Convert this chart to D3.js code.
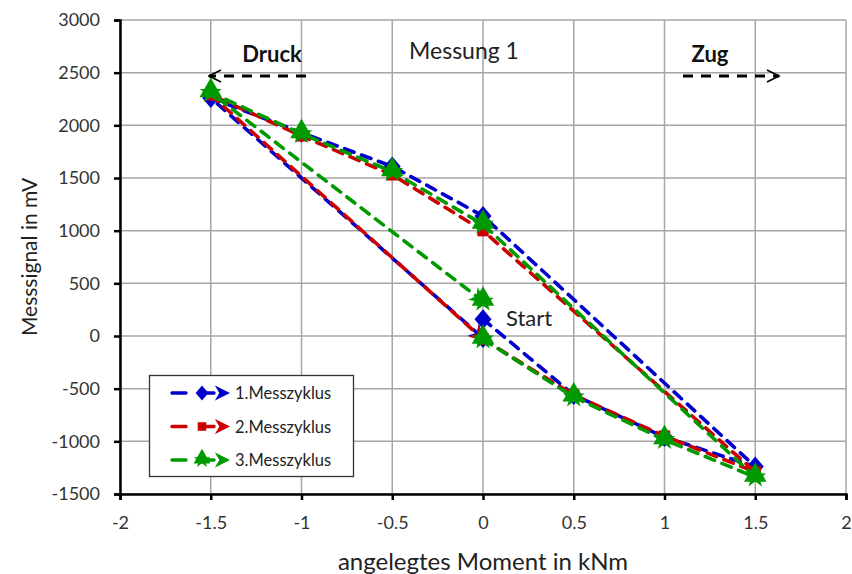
<!DOCTYPE html>
<html>
<head>
<meta charset="utf-8">
<script src="https://cdn.jsdelivr.net/npm/d3@7"></script>
<style>
  html, body { margin: 0; padding: 0; background: #fff; }
  text { font-family: Lato, "Open Sans", sans-serif; }
</style>
</head>
<body>
<svg id="chart" width="852" height="574"></svg>
<script>
// Applied moment sequence for each measuring cycle (kNm)
const momentX = [0, 0.5, 1, 1.5, 0, -0.5, -1, -1.5, 0];
// Measured signal per cycle (mV)
const zyklus1 = [160, -560, -960, -1240, 1140, 1610, 1930, 2260, -20];
const zyklus2 = [-30, -560, -950, -1290, 1000, 1530, 1900, 2290, -30];
const zyklus3 = [-30, -580, -985, -1340, 1060, 1560, 1920, 2310, 330];
const seriesNames = ["1.Messzyklus", "2.Messzyklus", "3.Messzyklus"];
const seriesColors = ["#0000cc", "#cc0000", "#009900"];
const seriesShapes = ["diamond", "square", "star"];

const xTicks = [-2, -1.5, -1, -0.5, 0, 0.5, 1, 1.5, 2];
const yTicks = [-1500, -1000, -500, 0, 500, 1000, 1500, 2000, 2500, 3000];

const svg = d3.select("#chart");
const plotL = 120, plotR = 846, plotT = 20, plotB = 494;

const x = d3.scaleLinear().domain([-2, 2]).range([plotL, plotR]);
const y = d3.scaleLinear().domain([-1500, 3000]).range([plotB, plotT]);

// Grid
const grid = svg.append("g");
grid.selectAll("line.v").data(xTicks).join("line")
  .attr("x1", d => x(d)).attr("x2", d => x(d))
  .attr("y1", plotT).attr("y2", plotB)
  .attr("stroke", "#a6a6a6").attr("stroke-width", 1.5);
grid.selectAll("line.h").data(yTicks).join("line")
  .attr("x1", plotL).attr("x2", plotR)
  .attr("y1", d => y(d)).attr("y2", d => y(d))
  .attr("stroke", "#a6a6a6").attr("stroke-width", 1.5);

// Axes
const xAxis = d3.axisBottom(x).tickValues(xTicks).tickSize(6).tickPadding(16)
  .tickFormat(d => String(d));
const yAxis = d3.axisLeft(y).tickValues(yTicks).tickSize(6).tickPadding(14)
  .tickFormat(d => String(d));

const gx = svg.append("g").attr("transform", `translate(0,${plotB})`).call(xAxis);
const gy = svg.append("g").attr("transform", `translate(${plotL},0)`).call(yAxis);
[gx, gy].forEach(g => {
  g.select(".domain").attr("stroke", "#000").attr("stroke-width", 2.5);
  g.selectAll(".tick line").attr("stroke", "#000").attr("stroke-width", 2.5);
  g.selectAll(".tick text").attr("fill", "#333").style("font-size", "18px")
    .style("font-family", "Lato, 'Open Sans', sans-serif");
});

// Axis titles
svg.append("text").attr("x", x(0)).attr("y", 570).attr("text-anchor", "middle")
  .style("font-size", "24px").attr("fill", "#222").text("angelegtes Moment in kNm");
svg.append("text").attr("transform", `translate(37,${y(750)}) rotate(-90)`)
  .attr("text-anchor", "middle").style("font-size", "21px").attr("fill", "#222")
  .text("Messsignal in mV");

// Arrow heads for the series lines
const defs = svg.append("defs");
seriesColors.forEach((c, i) => {
  defs.append("marker").attr("id", "arr" + i)
    .attr("viewBox", "0 0 10 10").attr("refX", 8).attr("refY", 5)
    .attr("markerWidth", 4.5).attr("markerHeight", 4.5)
    .attr("markerUnits", "strokeWidth").attr("orient", "auto")
    .append("path").attr("d", "M0,0 L10,5 L0,10 L3,5 Z").attr("fill", c);
});

const symbolFor = {
  square: d3.symbol().type(d3.symbolSquare).size(130),
  star: d3.symbol().type(d3.symbolStar).size(150),
  tri: d3.symbol().type(d3.symbolTriangle).size(220)
};

function drawMarker(g, shape, color, cx, cy, k = 1) {
  const t = `translate(${cx},${cy}) scale(${k})`;
  if (shape === "star") {
    g.append("path").attr("d", symbolFor.star()).attr("fill", color).attr("transform", t);
    g.append("path").attr("d", symbolFor.tri()).attr("fill", color)
      .attr("transform", `translate(${cx},${cy - 2 * k}) scale(${k})`);
  } else if (shape === "diamond") {
    g.append("path").attr("d", "M0,-10L8.5,0L0,10L-8.5,0Z").attr("fill", color).attr("transform", t);
  } else {
    g.append("path").attr("d", symbolFor[shape]()).attr("fill", color).attr("transform", t);
  }
}

const line = d3.line().x(d => x(d[0])).y(d => y(d[1]));
const allSeries = [zyklus1, zyklus2, zyklus3];

allSeries.forEach((vals, i) => {
  const pts = momentX.map((m, k) => [m, vals[k]]);
  const g = svg.append("g");
  g.append("path").datum(pts).attr("d", line)
    .attr("fill", "none").attr("stroke", seriesColors[i]).attr("stroke-width", 3.6)
    .attr("stroke-dasharray", "10,8").attr("stroke-linecap", "round")
    .attr("marker-end", `url(#arr${i})`);
  pts.forEach(p => drawMarker(g, seriesShapes[i], seriesColors[i], x(p[0]), y(p[1])));
});

// Annotations: direction arrows
defs.append("marker").attr("id", "arrBlack")
  .attr("viewBox", "0 0 10 10").attr("refX", 9).attr("refY", 5)
  .attr("markerWidth", 5).attr("markerHeight", 5)
  .attr("markerUnits", "strokeWidth").attr("orient", "auto")
  .append("path").attr("d", "M1,1 L9,5 L1,9").attr("fill", "none")
  .attr("stroke", "#000").attr("stroke-width", 1.1);

svg.append("line").attr("x1", 306).attr("x2", 209).attr("y1", 76).attr("y2", 76)
  .attr("stroke", "#000").attr("stroke-width", 3).attr("stroke-dasharray", "10,8")
  .attr("marker-end", "url(#arrBlack)");
svg.append("line").attr("x1", 683).attr("x2", 779).attr("y1", 76).attr("y2", 76)
  .attr("stroke", "#000").attr("stroke-width", 3).attr("stroke-dasharray", "10,8")
  .attr("marker-end", "url(#arrBlack)");

svg.append("text").attr("x", 272).attr("y", 62).attr("text-anchor", "middle")
  .style("font-size", "22px").style("font-weight", "bold").attr("fill", "#111").text("Druck");
svg.append("text").attr("x", 710).attr("y", 62).attr("text-anchor", "middle")
  .style("font-size", "22px").style("font-weight", "bold").attr("fill", "#111").text("Zug");
svg.append("text").attr("x", 464).attr("y", 59).attr("text-anchor", "middle")
  .style("font-size", "23px").attr("fill", "#222").text("Messung 1");
svg.append("text").attr("x", 506).attr("y", 326)
  .style("font-size", "22px").attr("fill", "#222").text("Start");

// Legend
const lg = svg.append("g");
lg.append("rect").attr("x", 149.5).attr("y", 375.5).attr("width", 204).attr("height", 101)
  .attr("fill", "#fff").attr("stroke", "#333").attr("stroke-width", 1.3);
seriesNames.forEach((name, i) => {
  const ly = 393 + i * 33.5;
  lg.append("line").attr("x1", 172).attr("x2", 227).attr("y1", ly).attr("y2", ly)
    .attr("stroke", seriesColors[i]).attr("stroke-width", 3.4)
    .attr("stroke-dasharray", "14,14").attr("stroke-linecap", "round")
    .attr("marker-end", `url(#arr${i})`);
  drawMarker(lg, seriesShapes[i], seriesColors[i], 202, ly, 0.75);
  lg.append("text").attr("x", 235).attr("y", ly + 6)
    .style("font-size", "16.5px").attr("fill", "#222").text(name);
});
</script>
</body>
</html>
